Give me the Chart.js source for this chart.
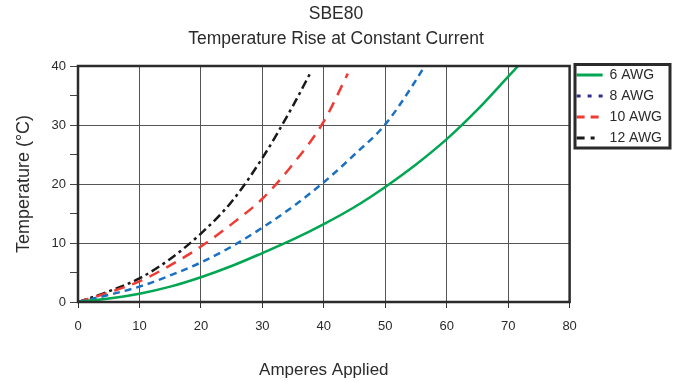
<!DOCTYPE html>
<html>
<head>
<meta charset="utf-8">
<script src="https://cdn.jsdelivr.net/npm/chart.js@4.4.1/dist/chart.umd.min.js"></script>
<style>
  html, body { margin: 0; padding: 0; background: #fff; }
  #wrap { width: 684px; height: 383px; }
</style>
</head>
<body>
<div id="wrap"><canvas id="chart"></canvas></div>
<script>
// ---------------------------------------------------------------------------
// Data
// ---------------------------------------------------------------------------
const titleLines = ['SBE80', 'Temperature Rise at Constant Current'];
const xTitle = 'Amperes Applied';
const yTitle = 'Temperature (°C)';

const awg6X = [0, 5, 10, 15, 20, 25, 30, 35, 40, 45, 50, 55, 60, 65, 70, 71.6];
const awg6Y = [0, 0.6, 1.4, 2.6, 4.2, 6.1, 8.3, 10.6, 13.2, 16.1, 19.5, 23.3, 27.6, 32.6, 38.2, 40];

const awg8X = [0, 5, 10, 15, 20, 25, 30, 35, 40, 45, 50, 55, 56.4];
const awg8Y = [0, 1.2, 2.6, 4.5, 6.7, 9.4, 12.6, 16.2, 20.3, 25.0, 30.1, 37.6, 40];

const awg10X = [0, 5, 10, 15, 20, 25, 30, 35, 40, 43.9];
const awg10Y = [0, 1.6, 3.5, 6.2, 9.4, 13.2, 17.5, 23.4, 30.6, 38.7];

const awg12X = [0, 5, 10, 15, 20, 25, 30, 35, 37.7];
const awg12Y = [0, 1.8, 4.0, 7.3, 11.6, 17.0, 24.4, 33.3, 38.6];

const seriesNames = ['6 AWG', '8 AWG', '10 AWG', '12 AWG'];

// ---------------------------------------------------------------------------
// Styles
// ---------------------------------------------------------------------------
const FONT = "'Liberation Sans', Arial, sans-serif";
const TEXT = '#2b2b2b';

const lineColors = ['#00a651', '#1b70c2', '#ee3b33', '#1a1a1a'];
const lineDashes = [[], [7, 5], [11, 8], [9, 4, 3, 4]];
const legendColors = ['#00a651', '#2e3192', '#ee3b33', '#1a1a1a'];
const legendDashes = [[], [4, 7], [8, 6], [8, 6, 4, 100]];

function pts(xs, ys) {
    return xs.map((x, i) => ({ x: x, y: ys[i] }));
}

const datasets = [
    pts(awg6X, awg6Y), pts(awg8X, awg8Y), pts(awg10X, awg10Y), pts(awg12X, awg12Y)
].map((data, i) => ({
    label: seriesNames[i],
    data: data,
    borderColor: lineColors[i],
    backgroundColor: lineColors[i],
    borderWidth: 2.5,
    borderDash: lineDashes[i],
    pointRadius: 0,
    fill: false,
    cubicInterpolationMode: 'monotone',
}));

// legend sits next to the top of the plot, both get a heavy frame
const framePlugin = {
    id: 'frames',
    beforeDraw(chart) {
        const lg = chart.legend;
        const h = lg.bottom - lg.top;
        lg.top = 61;
        lg.bottom = 61 + h;
    },
    afterDraw(chart) {
        const ctx = chart.ctx;
        const a = chart.chartArea;
        ctx.save();
        ctx.strokeStyle = '#2b2b2b';
        ctx.setLineDash([]);
        ctx.lineWidth = 2.5;
        ctx.strokeRect(a.left, a.top, a.right - a.left, a.bottom - a.top);
        ctx.lineWidth = 3;
        ctx.strokeRect(575, 64.5, 95, 83.5);
        ctx.restore();
    }
};

new Chart(document.getElementById('chart'), {
    type: 'line',
    data: { datasets },
    plugins: [framePlugin],
    options: {
        responsive: true,
        maintainAspectRatio: false,
        animation: false,
        layout: { padding: { top: 2, right: 12, left: 0, bottom: 2 } },
        plugins: {
            title: {
                display: true,
                text: titleLines,
                color: TEXT,
                font: { family: FONT, size: 17.5, weight: 'normal', lineHeight: 1.4 },
                padding: { top: 0, bottom: 15 },
            },
            legend: {
                position: 'right',
                align: 'start',
                labels: {
                    color: TEXT,
                    font: { family: FONT, size: 14 },
                    usePointStyle: true,
                    pointStyle: 'line',
                    pointStyleWidth: 26,
                    boxHeight: 14,
                    padding: 7,
                    generateLabels(chart) {
                        return chart.data.datasets.map((ds, i) => ({
                            text: ds.label,
                            datasetIndex: i,
                            fillStyle: legendColors[i],
                            strokeStyle: legendColors[i],
                            lineWidth: 3,
                            lineDash: legendDashes[i],
                            pointStyle: 'line',
                            fontColor: TEXT,
                            hidden: false,
                        }));
                    },
                },
            },
            tooltip: { enabled: false },
        },
        scales: {
            x: {
                type: 'linear',
                min: 0,
                max: 80,
                ticks: { stepSize: 10, color: TEXT, font: { family: FONT, size: 13 }, padding: 11 },
                grid: { color: '#555', tickColor: '#333', tickLength: 6, lineWidth: 1 },
                border: { display: false },
                title: {
                    display: true,
                    text: xTitle,
                    color: TEXT,
                    font: { family: FONT, size: 17 },
                    padding: { top: 16, bottom: 0 },
                },
                afterFit(scale) { scale.height = 79; },
            },
            y: {
                min: 0,
                max: 40,
                ticks: {
                    stepSize: 5,
                    color: TEXT,
                    font: { family: FONT, size: 13 },
                    padding: 4,
                    callback: (v) => (v % 10 === 0 ? v : ''),
                },
                grid: {
                    color: (c) => (c.tick && c.tick.value % 10 === 0 ? '#555' : 'rgba(0,0,0,0)'),
                    tickColor: '#444',
                    tickLength: 8,
                    lineWidth: 1,
                },
                border: { display: false },
                title: {
                    display: true,
                    text: yTitle,
                    color: TEXT,
                    font: { family: FONT, size: 18 },
                    padding: { top: 13, bottom: 0 },
                },
                afterFit(scale) { scale.width = 78; },
            },
        },
    },
});
</script>
</body>
</html>
